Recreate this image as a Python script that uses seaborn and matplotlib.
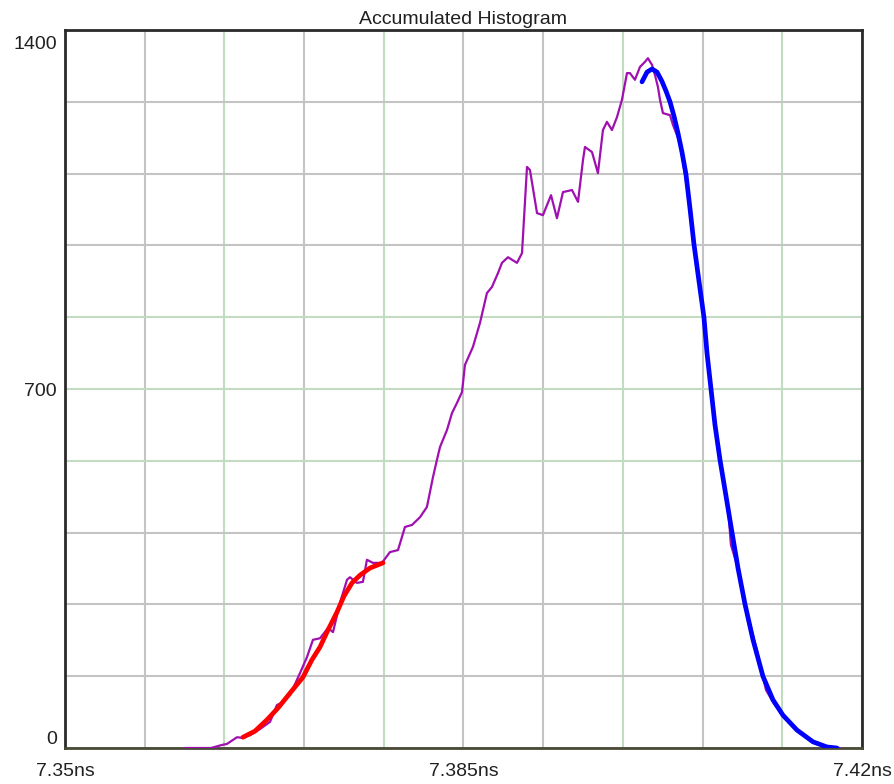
import seaborn as sns
import matplotlib.pyplot as plt
import matplotlib.transforms as mtrans
import pandas as pd
import numpy as np

# accumulated histogram (purple)
hist_t = [7.36054, 7.36282, 7.36379, 7.36423, 7.36511, 7.36555, 7.36625, 7.36713, 7.36801, 7.36862,
          7.36906, 7.36976, 7.37064, 7.37125, 7.37178, 7.37240, 7.37310, 7.37354, 7.37415, 7.37477,
          7.37503, 7.37565, 7.37617, 7.37652, 7.37705, 7.37784, 7.37854, 7.37925, 7.37986, 7.38048,
          7.38118, 7.38179, 7.38232, 7.38267, 7.38294, 7.38355, 7.38399, 7.38443, 7.38487, 7.38513,
          7.38583, 7.38645, 7.38706, 7.38750, 7.38803, 7.38838, 7.38891, 7.38970, 7.39014, 7.39058,
          7.39084, 7.39146, 7.39198, 7.39269, 7.39321, 7.39374, 7.39453, 7.39506, 7.39550, 7.39567,
          7.39629, 7.39681, 7.39725, 7.39760, 7.39804, 7.39848, 7.39892, 7.39936, 7.39962, 7.40006,
          7.40050, 7.40094, 7.40120, 7.40156, 7.40182, 7.40208, 7.40226, 7.40252, 7.40314, 7.40340,
          7.40402, 7.40472, 7.40533, 7.40604, 7.40674, 7.40753, 7.40823, 7.40849, 7.40911, 7.40990,
          7.41078, 7.41157, 7.41218, 7.41306, 7.41429, 7.41570, 7.41631, 7.41719, 7.41807]
hist_n = [0, 0, 6, 8, 21, 20, 25, 37, 51, 84,
          88, 103, 146, 177, 211, 214, 234, 226, 283, 328,
          333, 322, 324, 367, 361, 361, 382, 386, 431, 435,
          450, 470, 528, 562, 587, 620, 653, 673, 694, 747,
          782, 829, 887, 899, 926, 946, 957, 946, 965, 1133,
          1127, 1043, 1039, 1078, 1033, 1084, 1088, 1065, 1147, 1172,
          1162, 1121, 1205, 1221, 1205, 1230, 1264, 1316, 1316, 1303,
          1328, 1338, 1345, 1332, 1312, 1289, 1264, 1238, 1234, 1215,
          1180, 1080, 965, 850, 695, 560, 470, 396, 351, 265,
          190, 113, 90, 62, 33, 14, 6, 2, 0]

# rising edge fit (red)
rise_t = [7.36563, 7.36669, 7.36774, 7.36871, 7.36976, 7.37090, 7.37169, 7.37240, 7.37310,
          7.37389, 7.37450, 7.37521, 7.37591, 7.37679, 7.37793]
rise_n = [21, 33, 55, 78, 107, 138, 172, 197, 230, 265, 296, 322, 337, 351, 361]

# falling edge fit (blue)
fall_t = [7.40068, 7.40112, 7.40156, 7.40200, 7.40243, 7.40279, 7.40314, 7.40349, 7.40384, 7.40419,
          7.40454, 7.40489, 7.40524, 7.40568, 7.40612, 7.40639, 7.40674, 7.40709, 7.40753, 7.40806,
          7.40858, 7.40911, 7.40972, 7.41043, 7.41130, 7.41218, 7.41306, 7.41429, 7.41570, 7.41693,
          7.41780]
fall_n = [1299, 1318, 1324, 1318, 1300, 1281, 1260, 1232, 1199, 1162,
          1119, 1053, 983, 911, 840, 770, 700, 630, 562, 491,
          421, 351, 281, 211, 140, 94, 64, 35, 12, 2,
          0]

x_ticks = [7.35 + i * 0.007 for i in range(11)]
x_labels = ['7.35ns', '', '', '', '', '7.385ns', '', '', '', '', '7.42ns']
y_ticks = [i * 140 for i in range(11)]
y_labels = ['0', '', '', '', '', '700', '', '', '', '', '1400']

sns.set_style('white')
plt.rcParams['font.family'] = ['Liberation Sans', 'DejaVu Sans']

fig = plt.figure(figsize=(8.95, 7.84), dpi=100)
ax = fig.add_axes([0.0726, 0.0459, 0.8905, 0.9158])

hist = pd.DataFrame({'t': hist_t, 'n': hist_n})
rise = pd.DataFrame({'t': rise_t, 'n': rise_n})
fall = pd.DataFrame({'t': fall_t, 'n': fall_n})

sns.lineplot(data=hist, x='t', y='n', sort=False, color='#a010b0', lw=1.6, ax=ax, zorder=3)
sns.lineplot(data=rise, x='t', y='n', sort=False, color='#ff0000', lw=3.4, ax=ax, zorder=4)
sns.lineplot(data=fall, x='t', y='n', sort=False, color='#0000ff', lw=3.4, ax=ax, zorder=4)

ax.set_xlim(7.35, 7.42)
ax.set_ylim(0, 1400)
ax.set_xticks(x_ticks)
ax.set_xticklabels(x_labels)
ax.set_yticks(y_ticks)
ax.set_yticklabels(y_labels)
ax.tick_params(length=0, labelsize=14, colors='#202020')
ax.tick_params(axis='x', pad=11)
ax.tick_params(axis='y', pad=6)
ax.set_xlabel('')
ax.set_ylabel('')

# label nudges like the original
yl = ax.get_yticklabels()
yl[0].set_va('bottom')
yl[-1].set_va('top')
yl[-1].set_transform(yl[-1].get_transform() +
                     mtrans.ScaledTranslation(0, -4 / 72, fig.dpi_scale_trans))

ax.grid(True, color='#c4c4c4', lw=1.5)
ax.set_axisbelow(True)
for i in (2, 4, 7, 9):
    ax.get_xgridlines()[i].set_color('#c2dcc2')
for i in (4, 5, 6):
    ax.get_ygridlines()[i].set_color('#c2dcc2')

for s in ax.spines.values():
    s.set_visible(True)
    s.set_color('#2a2a2a')
    s.set_linewidth(2)
ax.spines['bottom'].set_color('#4a4a38')

ax.set_title('Accumulated Histogram', fontsize=14, pad=4, color='#202020')

plt.savefig('out.png', dpi=100)
